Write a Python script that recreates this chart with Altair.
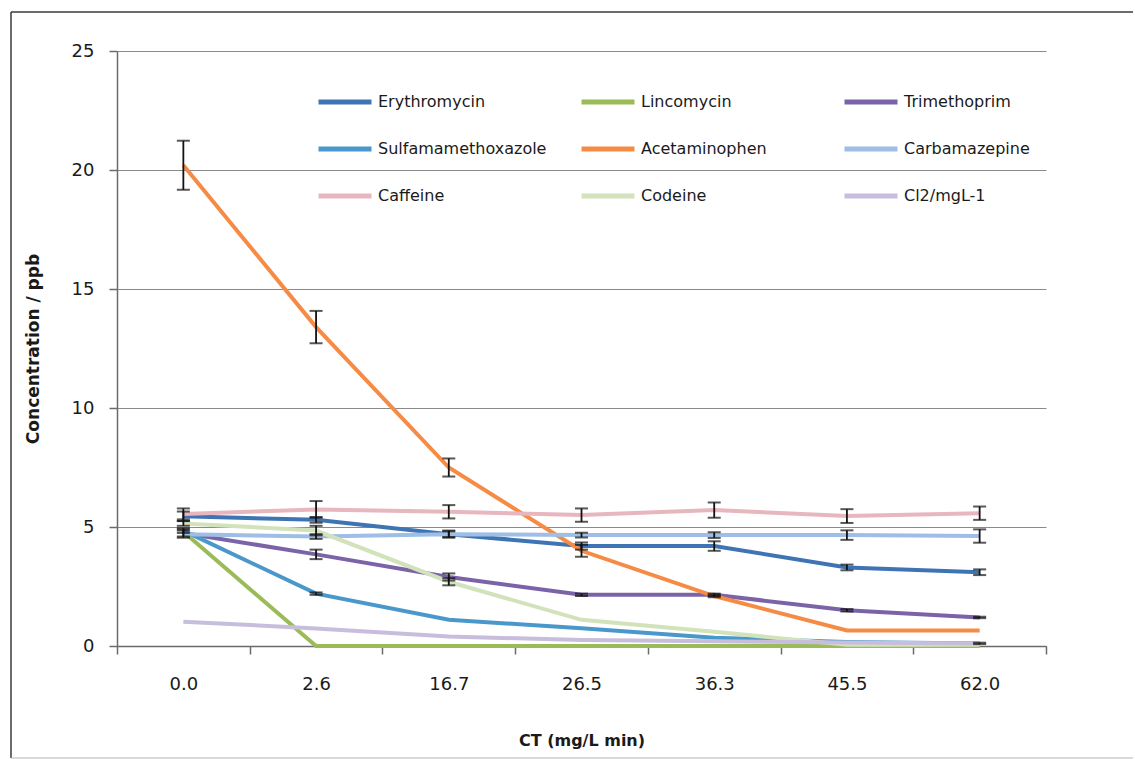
import altair as alt
import pandas as pd

# CT values (mg/L min) on the category axis
ct_labels = ["0.0", "2.6", "16.7", "26.5", "36.3", "45.5", "62.0"]

series_names = [
    "Erythromycin", "Lincomycin", "Trimethoprim",
    "Sulfamamethoxazole", "Acetaminophen", "Carbamazepine",
    "Caffeine", "Codeine", "Cl2/mgL-1",
]
series_colors = [
    "#3E74B3", "#9BBB59", "#7B63A8",
    "#4A98CB", "#F68B45", "#9EBEE6",
    "#E8B6BE", "#D2E2BA", "#C7BDDD",
]

# concentrations (ppb) and their error (+/-)
erythromycin = [5.45, 5.3, 4.7, 4.2, 4.2, 3.3, 3.1]
erythromycin_err = [0.2, 0.12, 0.15, 0.15, 0.2, 0.12, 0.12]
lincomycin = [4.8, 0.0, 0.0, 0.0, 0.0, 0.0, 0.0]
lincomycin_err = [0, 0, 0, 0, 0, 0, 0]
trimethoprim = [4.75, 3.85, 2.9, 2.15, 2.15, 1.5, 1.2]
trimethoprim_err = [0.15, 0.2, 0.15, 0.05, 0.05, 0.05, 0.03]
sulfamethoxazole = [4.85, 2.2, 1.1, 0.75, 0.35, 0.17, 0.11]
sulfamethoxazole_err = [0.1, 0.05, 0, 0, 0, 0, 0.03]
acetaminophen = [20.2, 13.4, 7.5, 4.0, 2.1, 0.65, 0.65]
acetaminophen_err = [1.03, 0.68, 0.38, 0.25, 0.05, 0, 0]
carbamazepine = [4.7, 4.6, 4.7, 4.66, 4.66, 4.66, 4.62]
carbamazepine_err = [0.15, 0.1, 0.12, 0.1, 0.12, 0.2, 0.28]
caffeine = [5.55, 5.74, 5.64, 5.5, 5.71, 5.46, 5.58]
caffeine_err = [0.23, 0.35, 0.28, 0.28, 0.32, 0.29, 0.28]
codeine = [5.15, 4.85, 2.7, 1.1, 0.6, 0.05, 0.05]
codeine_err = [0.1, 0.2, 0.15, 0, 0, 0, 0]
chlorine = [1.02, 0.74, 0.4, 0.25, 0.2, 0.15, 0.1]
chlorine_err = [0, 0, 0, 0, 0, 0, 0]

values = [erythromycin, lincomycin, trimethoprim, sulfamethoxazole,
          acetaminophen, carbamazepine, caffeine, codeine, chlorine]
errors = [erythromycin_err, lincomycin_err, trimethoprim_err, sulfamethoxazole_err,
          acetaminophen_err, carbamazepine_err, caffeine_err, codeine_err, chlorine_err]

rows = []
for name, vals, errs in zip(series_names, values, errors):
    for ct, v, e in zip(ct_labels, vals, errs):
        rows.append({"name": name, "ct": ct, "value": v, "err": e,
                     "lo": v - e, "hi": v + e})
df = pd.DataFrame(rows)
df_err = df[df["err"] > 0]

text_font = "DejaVu Sans"
ink = "#1a1a1a"
axis_grey = "#6b6b6b"

x_enc = alt.X(
    "ct:N", sort=ct_labels, bandPosition=0.5,
    scale=alt.Scale(type="band", domain=ct_labels, paddingInner=0, paddingOuter=0),
    axis=alt.Axis(
        labelAngle=0, tickBand="extent", grid=False,
        domainColor=axis_grey, domainWidth=1.5, tickColor=axis_grey, tickWidth=1.5,
        tickSize=8, labelFont=text_font, labelFontSize=18, labelColor=ink,
        labelPadding=21, title="CT (mg/L min)", titleFont=text_font,
        titleFontSize=16, titleFontWeight="bold", titleColor=ink,
        titlePadding=39,
    ),
)
y_scale = alt.Scale(domain=[0, 25], nice=False, zero=True)
y_axis = alt.Axis(
    values=[0, 5, 10, 15, 20, 25], grid=True, gridColor="#8a8a8a", gridWidth=1,
    domainColor=axis_grey, domainWidth=1.5, tickColor=axis_grey, tickWidth=1.5,
    tickSize=8, labelFont=text_font, labelFontSize=18, labelColor=ink,
    labelPadding=15, title="Concentration / ppb", titleFont=text_font,
    titleFontSize=17, titleFontWeight="bold", titleColor=ink, titlePadding=29,
)

lines = alt.Chart(df).mark_line(strokeWidth=4).encode(
    x=x_enc,
    y=alt.Y("value:Q", scale=y_scale, axis=y_axis),
    color=alt.Color(
        "name:N",
        scale=alt.Scale(domain=series_names, range=series_colors),
        legend=alt.Legend(
            title=None, orient="none", legendX=199, legendY=22, columns=3,
            direction="horizontal",
            symbolType="stroke", symbolSize=2809, symbolStrokeWidth=5,
            labelFont=text_font, labelFontSize=16, labelColor=ink,
            labelOffset=4, gridAlign="all", columnPadding=24, rowPadding=8,
            padding=0, labelLimit=400,
        ),
    ),
    order=alt.Order("name:N"),
)

err_rule = alt.Chart(df_err).mark_rule(color="#111", strokeWidth=1.8).encode(
    x=x_enc,
    y=alt.Y("lo:Q", scale=y_scale, axis=y_axis),
    y2="hi:Q",
)
cap_lo = alt.Chart(df_err).mark_tick(color="#111", thickness=2, size=13).encode(
    x=x_enc, y=alt.Y("lo:Q", scale=y_scale, axis=y_axis),
)
cap_hi = alt.Chart(df_err).mark_tick(color="#111", thickness=2, size=13).encode(
    x=x_enc, y=alt.Y("hi:Q", scale=y_scale, axis=y_axis),
)

# outer frame: left and top edges dark, bottom edge faint
frame_src = pd.DataFrame({"f": [0]})
frame_left = alt.Chart(frame_src).mark_rule(color="#3a3a3a", strokeWidth=1.5, clip=False).encode(
    x=alt.value(-106), y=alt.value(-39), y2=alt.value(707),
)
frame_top = alt.Chart(frame_src).mark_rule(color="#3a3a3a", strokeWidth=1.5, clip=False).encode(
    x=alt.value(-106), x2=alt.value(1016), y=alt.value(-39),
)
frame_bottom = alt.Chart(frame_src).mark_rule(color="#b5b5b5", strokeWidth=1, clip=False).encode(
    x=alt.value(-106), x2=alt.value(1016), y=alt.value(707),
)

chart = alt.layer(
    frame_left, frame_top, frame_bottom, lines, err_rule, cap_lo, cap_hi
).properties(
    width=929, height=595,
    autosize=alt.AutoSizeParams(type="none"),
    padding={"left": 117, "top": 51, "right": 89, "bottom": 113},
    background="white",
).configure_view(stroke=None)

chart.save("out.html", embed_options={"renderer": "svg", "actions": False})
